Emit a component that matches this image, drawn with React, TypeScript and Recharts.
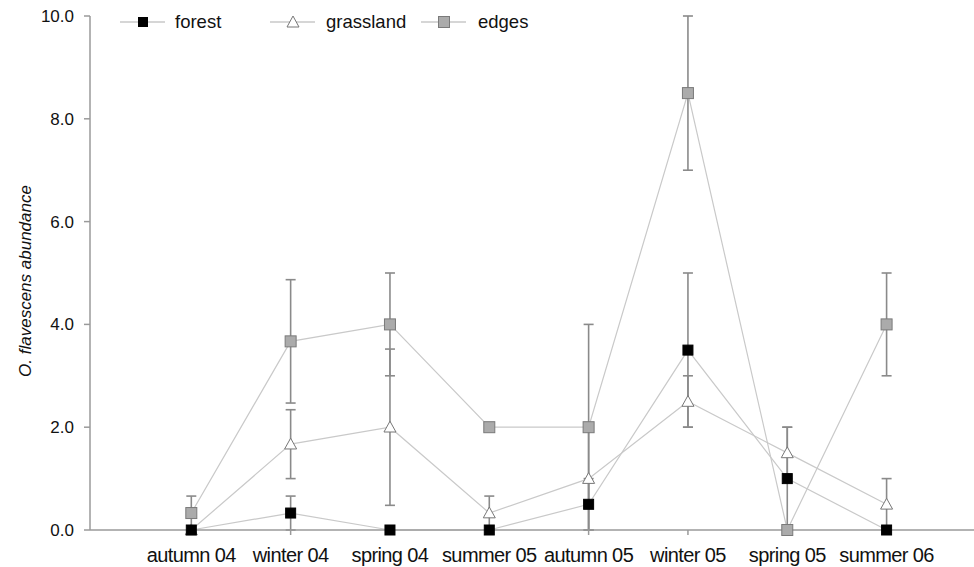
import React from 'react';
import { LineChart, Line, XAxis, YAxis, ErrorBar, Legend } from 'recharts';

const seasons = ['autumn 04', 'winter 04', 'spring 04', 'summer 05', 'autumn 05', 'winter 05', 'spring 05', 'summer 06'];
const forest = [0, 0.33, 0, 0, 0.5, 3.5, 1.0, 0];
const forestErr = [0, 0.33, 0, 0, 0.5, 1.5, 1.0, 0];
const grassland = [0, 1.67, 2.0, 0.33, 1.0, 2.5, 1.5, 0.5];
const grasslandErr = [0, 0.67, 1.52, 0.33, 1.0, 0.5, 0.5, 0.5];
const edges = [0.33, 3.67, 4.0, 2.0, 2.0, 8.5, 0, 4.0];
const edgesErr = [0.33, 1.2, 1.0, 0, 2.0, 1.5, 0, 1.0];
const yTicks = [0, 2, 4, 6, 8, 10];
const yLabel = 'O. flavescens abundance';

const data = seasons.map((s, i) => ({
  idx: i + 1,
  season: s,
  forest: forest[i],
  forestErr: forestErr[i],
  grassland: grassland[i],
  grasslandErr: grasslandErr[i],
  edges: edges[i],
  edgesErr: edgesErr[i],
}));

const FONT = '"Liberation Sans", Arial, sans-serif';
const LINE = '#c9c9c9';
const ERR = '#8a8a8a';

const SquareDot = (fill: string, stroke: string, size: number) => (props: any) => {
  const { cx, cy } = props;
  if (cx == null || cy == null) return null;
  return <rect x={cx - size / 2} y={cy - size / 2} width={size} height={size} fill={fill} stroke={stroke} strokeWidth={1} />;
};

const TriDot = (props: any) => {
  const { cx, cy } = props;
  if (cx == null || cy == null) return null;
  const s = 6;
  return <polygon points={`${cx},${cy - s} ${cx + s},${cy + s * 0.8} ${cx - s},${cy + s * 0.8}`} fill="#fff" stroke="#777" strokeWidth={1} />;
};

const legendPos: Record<string, { x: number; tx: number }> = {
  forest: { x: 120, tx: 175 },
  grassland: { x: 270, tx: 326 },
  edges: { x: 421, tx: 478 },
};

const renderLegend = (props: any) => {
  const { payload } = props;
  return (
    <svg width={600} height={45} style={{ display: 'block' }}>
      {(payload || []).map((p: any) => {
        const pos = legendPos[p.value];
        if (!pos) return null;
        const cy = 22;
        const cx = pos.x + 23;
        let marker;
        if (p.value === 'forest') marker = <rect x={cx - 5} y={cy - 5} width={10} height={10} fill="#000" />;
        else if (p.value === 'edges') marker = <rect x={cx - 5.5} y={cy - 5.5} width={11} height={11} fill="#ababab" stroke="#7a7a7a" />;
        else marker = <polygon points={`${cx},${cy - 6} ${cx + 6},${cy + 5} ${cx - 6},${cy + 5}`} fill="#fff" stroke="#777" />;
        return (
          <g key={p.value}>
            <line x1={pos.x} x2={pos.x + 45} y1={cy} y2={cy} stroke={LINE} strokeWidth={1.3} />
            {marker}
            <text x={pos.tx} y={cy + 6} fontFamily={FONT} fontSize={18.5} fill="#111">{p.value}</text>
          </g>
        );
      })}
    </svg>
  );
};

export default function App() {
  return (
    <div style={{ position: 'absolute', left: 0, top: 0, background: '#fff' }}>
      <LineChart width={974} height={567} data={data} margin={{ top: 16, right: 0, bottom: 0, left: 0 }}>
        <XAxis
          dataKey="idx"
          type="number"
          domain={[-0.02, 8.88]}
          ticks={[1, 2, 3, 4, 5, 6, 7, 8]}
          tickFormatter={(v: number) => seasons[v - 1] || ''}
          height={37}
          stroke="#9a9a9a"
          strokeWidth={1.5}
          tickSize={5}
          tickMargin={13}
          allowDataOverflow
          tick={{ fill: '#111', fontSize: 20, fontFamily: FONT, letterSpacing: -0.6 }}
        />
        <YAxis
          type="number"
          domain={[0, 10]}
          ticks={yTicks}
          width={90}
          stroke="#9a9a9a"
          strokeWidth={1.5}
          tickSize={6}
          tickMargin={10}
          tickFormatter={(v: number) => v.toFixed(1)}
          tick={{ fill: '#111', fontSize: 17, fontFamily: FONT }}
          label={{ value: yLabel, angle: -90, position: 'center', dx: -20, dy: 8, style: { fontFamily: FONT, fontSize: 17, fontStyle: 'italic', fill: '#111' } }}
        />
        <Legend
          layout="horizontal"
          verticalAlign="middle"
          align="center"
          wrapperStyle={{ top: 0, left: 0, width: 600 }}
          content={renderLegend}
        />
        <Line dataKey="edges" name="edges" stroke={LINE} strokeWidth={1.2} dot={SquareDot('#ababab', '#7a7a7a', 11)} isAnimationActive={false} activeDot={false}>
          <ErrorBar dataKey="edgesErr" direction="y" width={5} stroke={ERR} strokeWidth={1.6} />
        </Line>
        <Line dataKey="grassland" name="grassland" stroke={LINE} strokeWidth={1.2} dot={TriDot} isAnimationActive={false} activeDot={false}>
          <ErrorBar dataKey="grasslandErr" direction="y" width={5} stroke={ERR} strokeWidth={1.6} />
        </Line>
        <Line dataKey="forest" name="forest" stroke={LINE} strokeWidth={1.2} dot={SquareDot('#000', '#000', 10)} isAnimationActive={false} activeDot={false}>
          <ErrorBar dataKey="forestErr" direction="y" width={5} stroke={ERR} strokeWidth={1.6} />
        </Line>
      </LineChart>
    </div>
  );
}
